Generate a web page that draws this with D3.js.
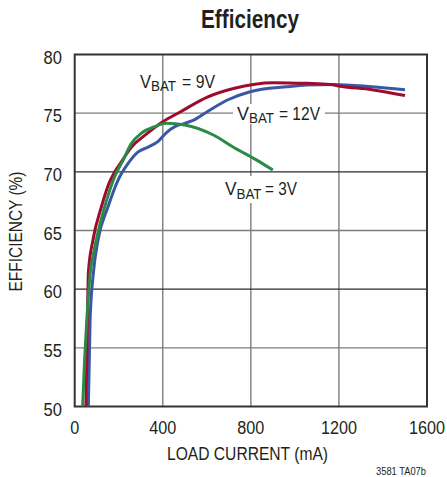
<!DOCTYPE html>
<html><head><meta charset="utf-8">
<script src="https://cdn.jsdelivr.net/npm/d3@7"></script>
<style>
body{margin:0;background:#fff;}
text{font-family:"Liberation Sans Narrow","Liberation Sans",sans-serif;fill:#231f20;}
</style></head>
<body><svg id="c" width="447" height="477"></svg>
<script>
const xTicks = [0, 400, 800, 1200, 1600];
const yTicks = [50, 55, 60, 65, 70, 75, 80];
const darkGridY = [60, 70];

const load3V = [36, 45, 55, 70, 85, 98, 136, 182, 220, 257, 303, 364, 416, 500, 630, 721, 827, 900];
const eff3V  = [50, 54, 57.4, 61.3, 63.0, 64.2, 67.0, 69.6, 71.0, 72.4, 73.3, 73.85, 74.13, 74.0, 73.14, 72.1, 71.0, 70.15];

const load9V = [51, 56, 62, 83, 121, 159, 182, 212, 257, 318, 400, 479, 600, 721, 903, 1054, 1160, 1206, 1350, 1500];
const eff9V  = [50, 55, 61.4, 64.2, 67.0, 69.16, 70.0, 70.86, 72.1, 73.1, 74.27, 75.1, 76.35, 77.1, 77.6, 77.54, 77.45, 77.3, 77.0, 76.5];

const load12V = [62, 70, 85, 106, 151, 197, 242, 288, 333, 379, 417, 455, 500, 540, 600, 691, 797, 964, 1054, 1175, 1350, 1500];
const eff12V  = [50, 57.4, 61.4, 64.2, 67.0, 69.3, 70.7, 71.7, 72.1, 72.6, 73.35, 73.85, 74.13, 74.4, 75.1, 76.1, 76.83, 77.25, 77.4, 77.45, 77.25, 77.0];

const labels = [
  {v: "9V", x: 140, y: 87.5, wV: 11, wB: 25, gap: 6, wR: 33},
  {v: "12V", x: 237, y: 119.5, wV: 12, wB: 25, gap: 5, wR: 41},
  {v: "3V", x: 225, y: 195, wV: 11.5, wB: 25, gap: 3.5, wR: 32}
];

const colors = {"3V": "#2b8a46", "9V": "#9e0b2e", "12V": "#3a57a6"};

const svg = d3.select("#c");
const L = 74.7, R = 427, T = 54.5, B = 406.5;
const x = d3.scaleLinear().domain([0, 1600]).range([L, R]);
const y = d3.scaleLinear().domain([50, 80]).range([B, T]);

svg.append("defs").append("clipPath").attr("id", "clip")
  .append("rect").attr("x", L).attr("y", T).attr("width", R - L).attr("height", B - T);

// grid
svg.append("g").selectAll("line").data(xTicks.slice(1, -1)).join("line")
  .attr("x1", d => x(d)).attr("x2", d => x(d)).attr("y1", T).attr("y2", B)
  .attr("stroke", "#7d7d7d").attr("stroke-width", 1.4);
svg.append("g").selectAll("line").data(yTicks.slice(1, -1)).join("line")
  .attr("y1", d => y(d)).attr("y2", d => y(d)).attr("x1", L).attr("x2", R)
  .attr("stroke", d => darkGridY.includes(d) ? "#2a2a2a" : "#7d7d7d").attr("stroke-width", 1.4);

// label backgrounds (hide grid behind labels)
const bg = svg.append("g");
bg.append("rect").attr("x", 233).attr("y", 104).attr("width", 92).attr("height", 20).attr("fill", "#fff");
bg.append("rect").attr("x", 222).attr("y", 176).attr("width", 76).attr("height", 27).attr("fill", "#fff");

// frame
svg.append("rect").attr("x", L).attr("y", T).attr("width", R - L).attr("height", B - T)
  .attr("fill", "none").attr("stroke", "#333").attr("stroke-width", 2);

// curves
const data = {
  "3V": load3V.map((d, i) => [d, eff3V[i]]),
  "9V": load9V.map((d, i) => [d, eff9V[i]]),
  "12V": load12V.map((d, i) => [d, eff12V[i]])
};
const line = d3.line().x(d => x(d[0])).y(d => y(d[1])).curve(d3.curveMonotoneX);
svg.append("g").attr("clip-path", "url(#clip)").selectAll("path").data(["12V", "9V", "3V"]).join("path")
  .attr("d", k => line(data[k])).attr("fill", "none")
  .attr("stroke", k => colors[k]).attr("stroke-width", 3).attr("stroke-linecap", "butt");

function fit(sel, w) { sel.attr("textLength", w).attr("lengthAdjust", "spacingAndGlyphs"); return sel; }

// tick labels
svg.append("g").selectAll("text").data(xTicks).join("text")
  .attr("x", d => x(d)).attr("y", 434).attr("text-anchor", "middle")
  .attr("font-size", 17.5).text(d => d)
  .attr("textLength", d => String(d).length * 9).attr("lengthAdjust", "spacingAndGlyphs");
svg.append("g").selectAll("text").data(yTicks).join("text")
  .attr("x", 62).attr("y", d => y(d) + 9).attr("text-anchor", "end")
  .attr("font-size", 18.5).text(d => d)
  .attr("textLength", d => String(d).length * 9.2).attr("lengthAdjust", "spacingAndGlyphs");

// axis titles
fit(svg.append("text").attr("x", 247.5).attr("y", 460).attr("text-anchor", "middle")
  .attr("font-size", 18.5).text("LOAD CURRENT (mA)"), 161);
fit(svg.append("text").attr("transform", "translate(22,231.5) rotate(-90)").attr("text-anchor", "middle")
  .attr("font-size", 18.5).text("EFFICIENCY (%)"), 120);
fit(svg.append("text").attr("x", 250).attr("y", 28).attr("text-anchor", "middle")
  .attr("font-size", 25).attr("font-weight", "bold").text("Efficiency"), 98);
fit(svg.append("text").attr("x", 426).attr("y", 475).attr("text-anchor", "end")
  .attr("font-size", 11.5).text("3581 TA07b"), 50);

// series labels: V, subscript BAT, "= nV" as separate texts
labels.forEach(l => {
  const g = svg.append("g");
  fit(g.append("text").attr("x", l.x).attr("y", l.y).attr("font-size", 18.5).text("V"), l.wV);
  fit(g.append("text").attr("x", l.x + l.wV).attr("y", l.y + 3.5).attr("font-size", 14.5).text("BAT"), l.wB);
  fit(g.append("text").attr("x", l.x + l.wV + l.wB + l.gap).attr("y", l.y).attr("font-size", 18.5).text("= " + l.v), l.wR);
});
</script></body></html>
